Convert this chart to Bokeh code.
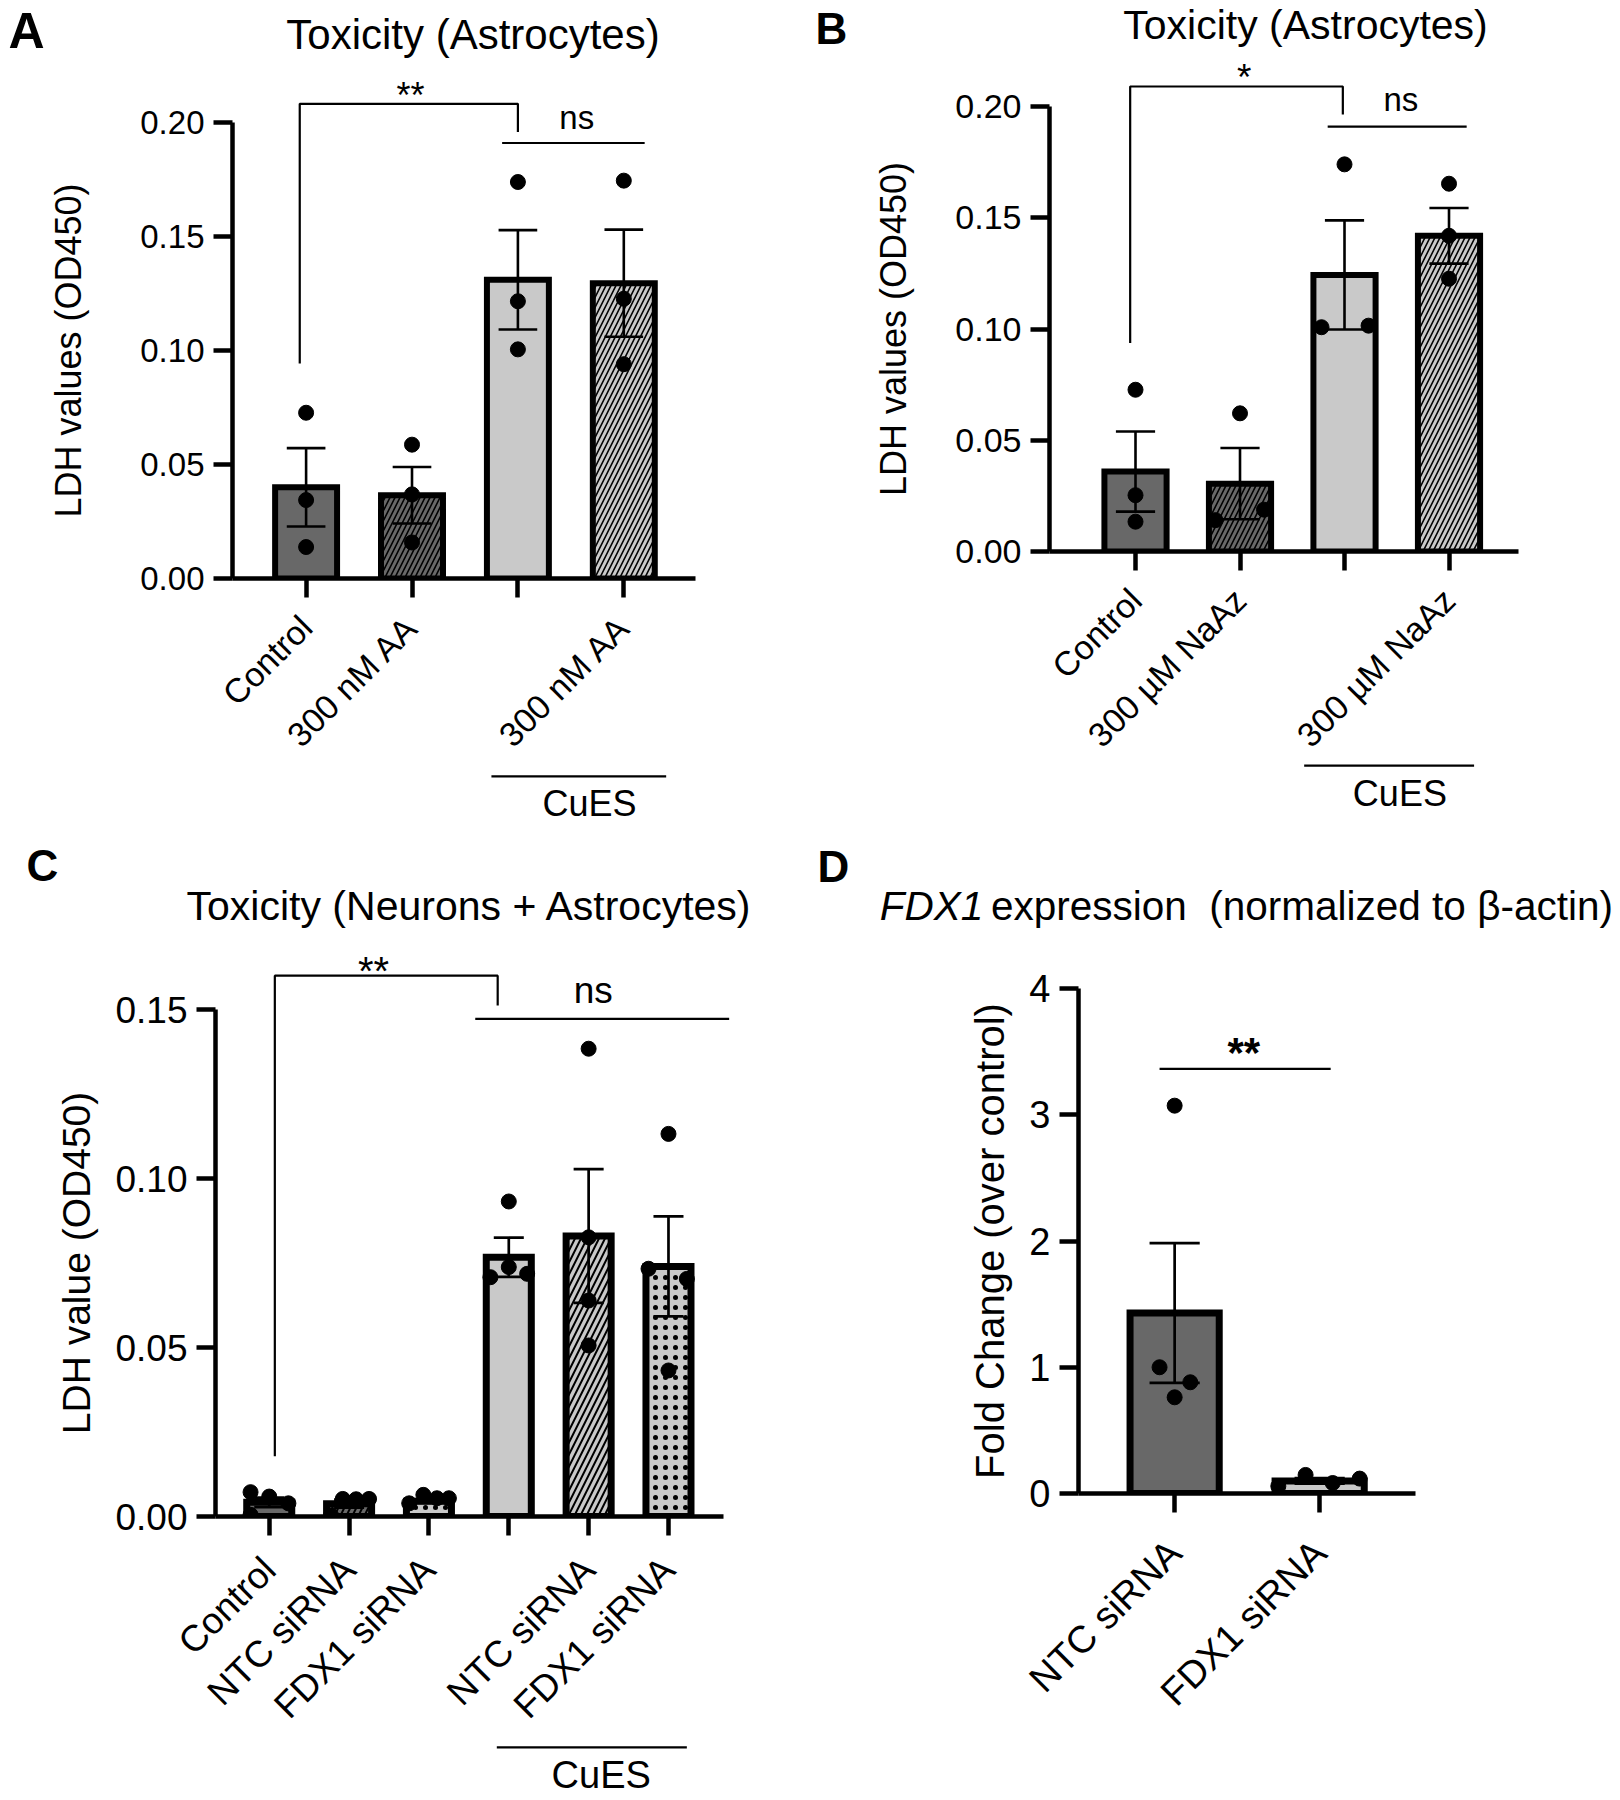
from math import pi
from bokeh.plotting import figure
from bokeh.models import FixedTicker, NumeralTickFormatter
from bokeh.core.properties import value
from bokeh.layouts import row, column
from bokeh.embed import file_html
from bokeh.resources import INLINE

FONT = "Liberation Sans"
DARK = "#686868"
LIGHT = "#c9c9c9"
BASELINE_FIX = 0.37   # em; svg text baseline correction

# ---------------- data ----------------
# Panel A
a_labels = ["Control", "300 nM AA", "", "300 nM AA"]
a_means = [0.0400, 0.0365, 0.1310, 0.1295]
a_sem = [0.0172, 0.0124, 0.0218, 0.0235]
a_points = [[0.0727, 0.0344, 0.0138], [0.0587, 0.0369, 0.0158],
            [0.1739, 0.1216, 0.1005], [0.1745, 0.1227, 0.0940]]
a_yticks = [0.0, 0.05, 0.10, 0.15, 0.20]

# Panel B
b_labels = ["Control", "300 \u00b5M NaAz", "", "300 \u00b5M NaAz"]
b_means = [0.0359, 0.0305, 0.1243, 0.1419]
b_sem = [0.0180, 0.0160, 0.0245, 0.0125]
b_points = [[0.0727, 0.0253, 0.0134], [0.0621, 0.0141, 0.0188],
            [0.1740, 0.1008, 0.1015], [0.1653, 0.1419, 0.1226]]
b_yticks = [0.0, 0.05, 0.10, 0.15, 0.20]

# Panel C
c_labels = ["Control", "NTC siRNA", "FDX1 siRNA", "", "NTC siRNA", "FDX1 siRNA"]
c_means = [0.0042, 0.0038, 0.0045, 0.0767, 0.0830, 0.0740]
c_sem = [0.0014, 0.0012, 0.0005, 0.0058, 0.0198, 0.0148]
c_points = [[0.0072, 0.0059, 0.0039, 0.0005], [0.0052, 0.0051, 0.0052, 0.0003],
            [0.0039, 0.0064, 0.0054, 0.0054], [0.0932, 0.0738, 0.0708, 0.0718],
            [0.1384, 0.0826, 0.0639, 0.0506], [0.1132, 0.0733, 0.0703, 0.0432]]
c_yticks = [0.0, 0.05, 0.10, 0.15]

# Panel D
d_labels = ["NTC siRNA", "FDX1 siRNA"]
d_means = [1.43, 0.100]
d_sem = [0.553, 0.022]
d_points = [[3.072, 1.000, 0.881, 0.762], [0.058, 0.147, 0.083, 0.118]]
d_yticks = [0, 1, 2, 3, 4]

# ---------------- layout / style (not data) ----------------
A = dict(w=810, h=832, b=(232, 115, 122, 254), xr=(0.305, 4.677), ymax=0.20, fmt="0.00",
         tick_fs="33px", xl_fs="34px", xl_so=24, yl="LDH values (OD450)", yl_fs="36px", yl_so=48,
         bw=0.585, lw=6, cap=0.365, ew=2.6, hs=10, hw=1.6,
         fills=[DARK, DARK, LIGHT, LIGHT], hatch=[None, "/", None, "/"],
         jit=[[0, 0, 0], [0, 0, 0], [0, 0, 0], [0, 0, 0]],
         letter=("A", -1.81, 0.232, "50px"),
         title=[("Toxicity (Astrocytes)", 2.576, 0.2316, "42px", "normal", "center")],
         brackets=[([0.94, 0.94, 3.0, 3.0], [0.0943, 0.2082, 0.2082, 0.1958]),
                   ([2.851, 4.197], [0.191, 0.191])],
         stars=[("**", 1.986, 0.206, "36px", "normal"), ("ns", 3.556, 0.197, "33px", "normal")],
         cues=([2.75, 4.40], -0.0868, 3.676, -0.1044, "36px"))

B = dict(w=810, h=832, b=(239, 102, 106, 281), xr=(0.177, 4.665), ymax=0.20, fmt="0.00",
         tick_fs="34px", xl_fs="34px", xl_so=24, yl="LDH values (OD450)", yl_fs="36px", yl_so=38,
         bw=0.595, lw=6, cap=0.375, ew=2.6, hs=10, hw=1.6,
         fills=[DARK, DARK, LIGHT, LIGHT], hatch=[None, "/", None, "/"],
         jit=[[0, 0, 0], [0, -0.235, 0.23], [0, -0.22, 0.23], [0, 0, 0]],
         letter=("B", -2.062, 0.2276, "44px"),
         title=[("Toxicity (Astrocytes)", 2.627, 0.2298, "41px", "normal", "center")],
         brackets=[([0.949, 0.949, 2.984, 2.984], [0.0937, 0.209, 0.209, 0.1964]),
                   ([2.839, 4.169], [0.191, 0.191])],
         stars=[("*", 2.039, 0.207, "37px", "normal"), ("ns", 3.54, 0.1976, "33px", "normal")],
         cues=([2.614, 4.24], -0.0962, 3.53, -0.1149, "36px"))

C = dict(w=810, h=968, b=(215, 87, 177, 284), xr=(0.327, 6.689), ymax=0.15, fmt="0.00",
         tick_fs="37px", xl_fs="37px", xl_so=28, yl="LDH value (OD450)", yl_fs="39px", yl_so=14,
         bw=0.564, lw=7, cap=0.376, ew=2.7, hs=12, hw=2,
         fills=[DARK, DARK, LIGHT, LIGHT, LIGHT, LIGHT], hatch=[None, "/", ".", None, "/", "."],
         jit=[[-0.234, 0, 0.24, -0.234], [-0.079, 0.088, 0.25, -0.226], [-0.247, -0.07, 0.10, 0.25],
              [0, 0, -0.23, 0.23], [0, 0, 0, 0], [0, -0.25, 0.23, 0]],
         letter=("C", -2.041, 0.1879, "44px"),
         title=[("Toxicity (Neurons + Astrocytes)", 3.51, 0.176, "41px", "normal", "center")],
         brackets=[([1.07, 1.07, 3.861, 3.861], [0.0178, 0.16, 0.16, 0.1512]),
                   ([3.58, 6.76], [0.1472, 0.1472])],
         stars=[("**", 2.307, 0.157, "40px", "normal"), ("ns", 5.058, 0.1517, "37px", "normal")],
         cues=([3.85, 6.23], -0.0683, 5.158, -0.0805, "38px"))

D = dict(w=810, h=968, b=(268, 205, 156, 307), xr=(0.337, 2.661), ymax=4, fmt="0",
         tick_fs="38px", xl_fs="38px", xl_so=34, yl="Fold Change (over control)", yl_fs="40px", yl_so=14,
         bw=0.615, lw=7, cap=0.346, ew=2.7, hs=11, hw=2,
         fills=[DARK, LIGHT], hatch=[None, None],
         jit=[[0, -0.104, 0.108, 0], [-0.285, -0.097, 0.09, 0.276]],
         letter=("D", -1.463, 4.838, "44px"),
         title=[("FDX1", -1.034, 4.537, "40.5px", "italic", "left"),
                ("expression\u00a0\u00a0(normalized to \u03b2-actin)", -0.267, 4.537, "40.5px", "normal", "left")],
         brackets=[([0.896, 2.076], [3.364, 3.364])],
         stars=[("**", 1.477, 3.37, "42px", "bold")],
         cues=None)


def add_text(p, ppu, x, y, txt, fs, style="normal", align="center"):
    fpx = float(fs.replace("px", ""))
    y_adj = y + BASELINE_FIX * fpx / ppu
    p.text(x=[x], y=[y_adj], text=[txt], text_font=value(FONT), text_font_size=value(fs),
           text_font_style=style, text_align=align, text_baseline="alphabetic",
           text_color="black", level="annotation")


def make_panel(cfg, labels, means, sem, points, yticks):
    bl, br, bt, bb = cfg["b"]
    p = figure(width=cfg["w"], height=cfg["h"], x_range=cfg["xr"], y_range=(0, cfg["ymax"]),
               output_backend="svg", toolbar_location=None,
               min_border_left=bl, min_border_right=br, min_border_top=bt, min_border_bottom=bb)
    p.outline_line_color = None
    p.grid.visible = False
    p.background_fill_color = "white"
    p.border_fill_color = "white"
    ppu = (cfg["h"] - bt - bb) / cfg["ymax"]

    n = len(means)
    xs = list(range(1, n + 1))

    xa = p.xaxis[0]
    ya = p.yaxis[0]
    xa.ticker = FixedTicker(ticks=xs)
    xa.major_label_overrides = {x: lab for x, lab in zip(xs, labels)}
    xa.major_label_orientation = pi / 4
    ya.ticker = FixedTicker(ticks=yticks)
    ya.formatter = NumeralTickFormatter(format=cfg["fmt"])
    for ax in (xa, ya):
        ax.axis_line_width = 4.5
        ax.axis_line_color = "black"
        ax.major_tick_line_width = 4.5
        ax.major_tick_line_color = "black"
        ax.major_tick_out = 19
        ax.major_tick_in = 0
        ax.minor_tick_line_color = None
        ax.major_label_text_font = FONT
        ax.major_label_text_color = "black"
        ax.major_label_standoff = 9
    xa.major_label_standoff = cfg["xl_so"]
    ya.major_label_text_font_size = cfg["tick_fs"]
    xa.major_label_text_font_size = cfg["xl_fs"]
    ya.axis_label = cfg["yl"]
    ya.axis_label_text_font = FONT
    ya.axis_label_text_font_style = "normal"
    ya.axis_label_text_font_size = cfg["yl_fs"]
    ya.axis_label_text_color = "black"
    ya.axis_label_standoff = cfg["yl_so"]

    # bars
    for i in range(n):
        kw = {}
        pat = cfg["hatch"][i]
        if pat:
            kw = dict(hatch_pattern=pat, hatch_color="black",
                      hatch_scale=(cfg["hs"] if pat == "/" else 10), hatch_weight=cfg["hw"])
        p.vbar(x=[xs[i]], top=[means[i]], bottom=0, width=cfg["bw"],
               fill_color=cfg["fills"][i], line_color="black", line_width=cfg["lw"],
               line_join="miter", **kw)

    # error bars
    lo = [m - s for m, s in zip(means, sem)]
    hi = [m + s for m, s in zip(means, sem)]
    c = cfg["cap"] / 2
    p.segment(x0=xs, y0=lo, x1=xs, y1=hi, line_width=cfg["ew"], line_color="black")
    p.segment(x0=[x - c for x in xs], y0=hi, x1=[x + c for x in xs], y1=hi,
              line_width=cfg["ew"], line_color="black")
    p.segment(x0=[x - c for x in xs], y0=lo, x1=[x + c for x in xs], y1=lo,
              line_width=cfg["ew"], line_color="black")

    # individual points
    px, py = [], []
    for i in range(n):
        for j, v in enumerate(points[i]):
            px.append(xs[i] + cfg["jit"][i][j])
            py.append(v)
    p.scatter(x=px, y=py, size=15, fill_color="black", line_color="black")

    # significance brackets
    for bx, by in cfg["brackets"]:
        p.line(x=bx, y=by, line_width=2.2, line_color="black", level="annotation")
    for txt, x, y, fs, style in cfg["stars"]:
        add_text(p, ppu, x, y, txt, fs, style)

    # CuES group marker
    if cfg["cues"]:
        lx, ly, tx, ty, fs = cfg["cues"]
        p.line(x=lx, y=[ly, ly], line_width=2.2, line_color="black", level="annotation")
        add_text(p, ppu, tx, ty, "CuES", fs)

    # titles & letter
    for txt, x, y, fs, style, align in cfg["title"]:
        add_text(p, ppu, x, y, txt, fs, style, align)
    lt, lx, ly, lfs = cfg["letter"]
    add_text(p, ppu, lx, ly, lt, lfs, "bold", "left")
    return p


pA = make_panel(A, a_labels, a_means, a_sem, a_points, a_yticks)
pB = make_panel(B, b_labels, b_means, b_sem, b_points, b_yticks)
pC = make_panel(C, c_labels, c_means, c_sem, c_points, c_yticks)
pD = make_panel(D, d_labels, d_means, d_sem, d_points, d_yticks)

layout = column(row(column(pA), column(pB)), row(column(pC), column(pD)))
open("out.html", "w").write(file_html(layout, INLINE))
